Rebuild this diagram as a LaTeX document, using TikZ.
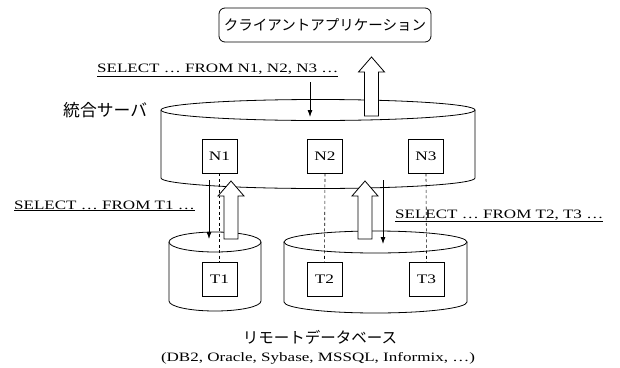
\documentclass[tikz,border=0pt]{standalone}
\usepackage{fontspec}
\setmainfont{Liberation Serif}[FakeStretch=1.33]
\newfontfamily\jpfont{Noto Sans CJK JP}
\usetikzlibrary{arrows.meta}

% open cylinder: #1 centre x, #2 top y, #3 bottom y, #4 x radius, #5 y radius
\newcommand\dbcyl[5]{%
  \draw[cylwall] (#1-#4,#2) -- (#1-#4,#3)
    arc[start angle=180, end angle=360, x radius=#4pt, y radius=#5pt]
    -- (#1+#4,#2);
  \draw[cylwall] (#1,#2) ellipse[x radius=#4pt, y radius=#5pt];}

% hollow upward block arrow: #1 centre x, #2 bottom y, #3 tip y
\newcommand\fatup[3]{%
  \draw[fatarrow] (#1-7,#2) -- (#1-7,#3+15) -- (#1-13,#3+15) -- (#1,#3)
    -- (#1+13,#3+15) -- (#1+7,#3+15) -- (#1+7,#2) -- cycle;}

\begin{document}
\begin{tikzpicture}[x=1pt,y=-1pt,
  tbl/.style={draw, fill=white, line width=0.7pt, minimum width=35pt,
    minimum height=34pt, inner sep=0pt, font=\fontsize{13}{13}\selectfont},
  sqlnote/.style={font=\fontsize{12.8}{13}\selectfont, inner sep=0pt, anchor=base west},
  jplabel/.style={font=\jpfont\fontsize{15.5}{15.5}\selectfont, inner sep=0pt},
  cylwall/.style={fill=white, line width=0.8pt},
  fatarrow/.style={fill=white, line width=0.8pt, line join=miter},
  link/.style={dashed, line width=0.6pt, dash pattern=on 3pt off 2.5pt},
  query/.style={-{Latex[length=7pt,width=5pt]}, line width=0.8pt}
]
\useasboundingbox (0,0) rectangle (620,367);

% client application
\node[draw, rounded corners=6pt, line width=0.8pt, minimum width=212pt,
  minimum height=34pt, inner sep=0pt, font=\jpfont\fontsize{14.5}{14.5}\selectfont]
  (client) at (325,25) {クライアントアプリケーション};

% federated server
\dbcyl{318}{110}{178}{157}{10.5}
\node[jplabel, anchor=west, font=\jpfont\fontsize{16.8}{16.8}\selectfont]
  (fedlabel) at (63,110) {統合サーバ};

% remote databases
\dbcyl{215}{242}{301}{46}{10}
\dbcyl{375.5}{242}{302}{91.5}{11}

% nicknames and remote tables
\node[tbl] (n1) at (219.5,156) {N1};
\node[tbl] (n2) at (325,156) {N2};
\node[tbl] (n3) at (426,156) {N3};
\node[tbl] (t1) at (219.5,279) {T1};
\node[tbl] (t2) at (324.5,279) {T2};
\node[tbl] (t3) at (426.5,279) {T3};

\draw[link] (n1.south) -- (t1.north);
\draw[link] (n2.south) -- (t2.north);
\draw[link] (n3.south) -- (t3.north);

% queries going down
\coordinate (q0a) at (310,82);  \coordinate (q0b) at (310,117);
\coordinate (q1a) at (209,180); \coordinate (q1b) at (209,239);
\coordinate (q2a) at (383,180); \coordinate (q2b) at (383,244);
\draw[query] (q0a) -- (q0b);
\draw[query] (q1a) -- (q1b);
\draw[query] (q2a) -- (q2b);

% results going up
\fatup{371.5}{116}{57}
\fatup{231}{239}{181}
\fatup{365}{239}{181}

% query texts
\node[sqlnote] (sql0) at (97,72.5) {\underline{SELECT … FROM N1, N2, N3 …}};
\node[sqlnote] (sql1) at (14,209) {\underline{SELECT … FROM T1 …}};
\node[sqlnote] (sql2) at (395,218) {\underline{SELECT … FROM T2, T3 …}};

% remote database caption
\node[jplabel] (remlabel) at (320,337) {リモートデータベース};
\node[font=\fontsize{12.8}{13}\selectfont, inner sep=0pt] (dblist) at (318,358)
  {(DB2, Oracle, Sybase, MSSQL, Informix, …)};
\end{tikzpicture}
\end{document}
